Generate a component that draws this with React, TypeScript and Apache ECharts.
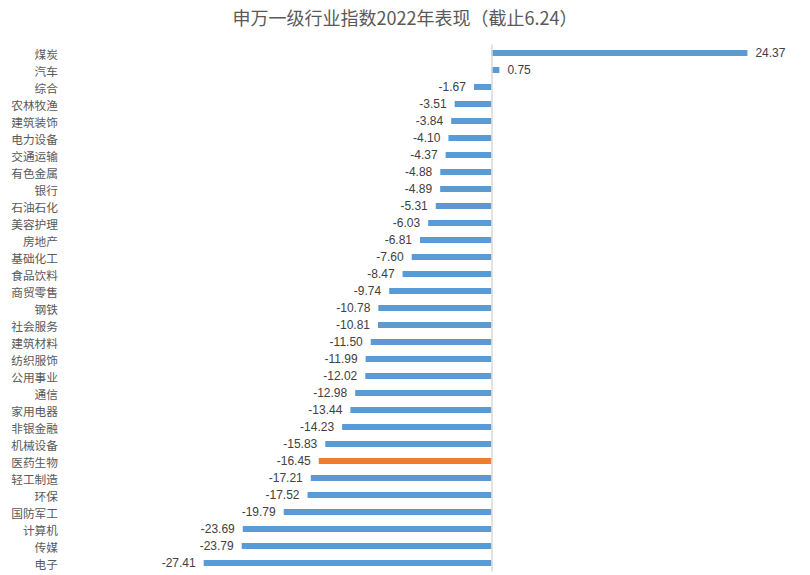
import React, { useEffect, useRef } from "react";
import * as echarts from "echarts";

const titleText = "申万一级行业指数2022年表现（截止6.24）";
const categories = [
  "煤炭", "汽车", "综合", "农林牧渔", "建筑装饰", "电力设备", "交通运输", "有色金属", "银行", "石油石化",
  "美容护理", "房地产", "基础化工", "食品饮料", "商贸零售", "钢铁", "社会服务", "建筑材料", "纺织服饰", "公用事业",
  "通信", "家用电器", "非银金融", "机械设备", "医药生物", "轻工制造", "环保", "国防军工", "计算机", "传媒", "电子",
];
const values = [
  24.37, 0.75, -1.67, -3.51, -3.84, -4.1, -4.37, -4.88, -4.89, -5.31,
  -6.03, -6.81, -7.6, -8.47, -9.74, -10.78, -10.81, -11.5, -11.99, -12.02,
  -12.98, -13.44, -14.23, -15.83, -16.45, -17.21, -17.52, -19.79, -23.69, -23.79, -27.41,
];
const highlighted = ["医药生物"];

const BLUE = "#5B9BD5";
const ORANGE = "#ED7D31";

export default function App() {
  const ref = useRef<HTMLDivElement>(null);
  useEffect(() => {
    if (!ref.current) return;
    const chart = echarts.init(ref.current, undefined, { renderer: "svg" });
    const data = values.map((v, i) => ({
      value: v,
      itemStyle: { color: highlighted.includes(categories[i]) ? ORANGE : BLUE },
      label: { position: v >= 0 ? "right" : "left" },
    }));
    chart.setOption({
      animation: false,
      backgroundColor: "#ffffff",
      title: {
        text: titleText,
        left: "center",
        top: 3,
        textStyle: {
          fontSize: 18,
          fontWeight: "normal",
          color: "#595959",
          fontFamily: "Noto Sans CJK SC",
        },
      },
      grid: { left: 176.5, top: 44.5, width: 630, height: 527 },
      xAxis: {
        type: "value",
        min: -30,
        max: 30,
        show: false,
      },
      yAxis: {
        type: "category",
        data: categories,
        inverse: true,
        axisLine: { show: false },
        axisTick: { show: false },
        splitLine: { show: false },
        axisLabel: {
          margin: 118.5,
          fontSize: 11.7,
          lineHeight: 14,
          color: "#595959",
          fontFamily: "Noto Sans CJK SC",
        },
      },
      series: [
        {
          type: "bar",
          data,
          barWidth: 6,
          label: {
            show: true,
            distance: 8,
            fontSize: 12,
            lineHeight: 14,
            color: "#404040",
            fontFamily: "Liberation Sans",
            formatter: (p: any) => Number(p.value).toFixed(2),
          },
          markLine: {
            silent: true,
            symbol: "none",
            label: { show: false },
            lineStyle: { color: "#d9d9d9", type: "solid", width: 1.5 },
            data: [{ xAxis: 0 }],
          },
        },
      ],
    });
    return () => chart.dispose();
  }, []);
  return <div ref={ref} style={{ width: 810, height: 575, position: "absolute", left: 0, top: 0 }} />;
}
